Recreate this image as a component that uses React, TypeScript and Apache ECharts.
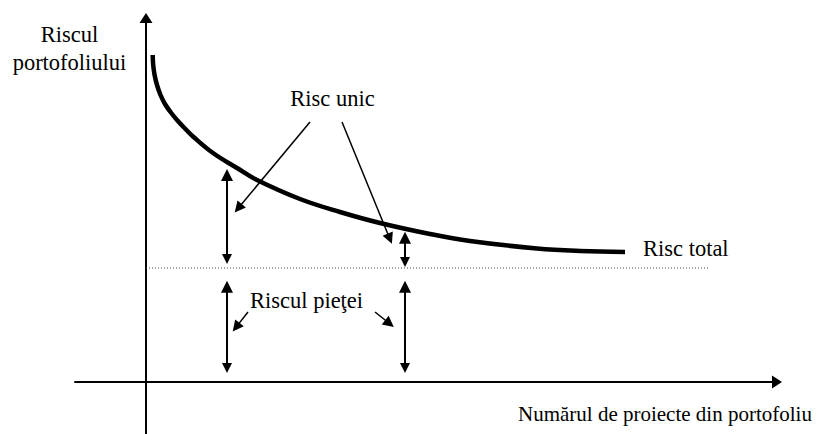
import React, { useEffect, useRef } from "react";
import * as echarts from "echarts";

// Total risk curve (x: number of projects, y: portfolio risk), axis origin at (0,0)
const curveX = [0.67, 0.72, 0.86, 1.1, 1.45, 1.9, 2.45, 3.1, 3.9, 4.73, 6.7, 9.1, 11.1, 15.4, 19.4, 23.4, 28.4, 32.4, 39.1, 43.4, 47.9];
const curveY = [32.7, 31.7, 30.7, 29.7, 28.7, 27.8, 27.0, 26.2, 25.35, 24.53, 22.9, 21.4, 20.2, 18.3, 17.0, 15.9, 14.8, 14.1, 13.35, 13.1, 13.0];

// Market (systematic) risk level – dotted line
const marketLevel = 11.4;
const marketLineX = [0, 56.4];

// Double arrows: [x, yFrom, yTo]
const uniqueRiskSpans = [
  [8.1, 20.7, 12.3],
  [25.9, 14.43, 12.0],
];
const marketRiskSpans = [
  [8.1, 9.53, 1.4],
  [25.9, 9.53, 1.4],
];

// Pointer arrows: [x0, y0, x1, y1]
const uniquePointers = [
  [16.4, 26.0, 9.22, 17.38],
  [19.6, 26.0, 24.38, 14.33],
];
const marketPointers = [
  [10.2, 7.0, 9.01, 5.49],
  [22.9, 7.0, 24.35, 5.85],
];

// Texts
const yAxisTitle = "Riscul\nportofoliului";
const xAxisTitle = "Numărul de proiecte din portofoliu";
const labelUnique = "Risc unic";
const labelTotal = "Risc total";
const labelMarket = "Riscul pieţei";

const FONT = "Liberation Serif";

export default function App() {
  const ref = useRef<HTMLDivElement>(null);

  useEffect(() => {
    if (!ref.current) return;
    const chart = echarts.init(ref.current, undefined, { renderer: "svg" });

    const axisCommon = {
      type: "value" as const,
      axisLine: {
        show: true,
        onZero: true,
        symbol: ["none", "triangle"],
        symbolSize: [13, 10],
        lineStyle: { color: "#000", width: 2 },
      },
      axisTick: { show: false },
      axisLabel: { show: false },
      splitLine: { show: false },
    };

    const textStyle = (text: string, align: string, size = 22.5) => ({
      text,
      font: `${size}px "${FONT}"`,
      fill: "#000",
      align,
      verticalAlign: "middle",
      lineHeight: 28,
    });

    const option: any = {
      animation: false,
      backgroundColor: "#fff",
      grid: { left: 75, right: 58, top: 18, bottom: 0, containLabel: false },
      xAxis: { ...axisCommon, min: -7.1, max: 63.1 },
      yAxis: { ...axisCommon, min: -5.2, max: 36.4 },
      series: [
        {
          type: "line",
          data: curveX.map((x, i) => [x, curveY[i]]),
          smooth: 0.4,
          symbol: "none",
          lineStyle: { color: "#000", width: 4.5, cap: "butt" },
          z: 3,
        },
        {
          type: "line",
          data: marketLineX.map((x) => [x, marketLevel]),
          symbol: "none",
          lineStyle: { color: "#444", width: 1, type: [1, 2] },
          z: 2,
        },
        {
          type: "lines",
          coordinateSystem: "cartesian2d",
          data: [...uniqueRiskSpans, ...marketRiskSpans].map((s) => ({
            coords: [
              [s[0], s[1]],
              [s[0], s[2]],
            ],
          })),
          symbol: ["triangle", "triangle"],
          symbolSize: [12, 10],
          lineStyle: { color: "#000", width: 2, opacity: 1 },
          z: 4,
        },
        {
          type: "lines",
          coordinateSystem: "cartesian2d",
          data: [...uniquePointers, ...marketPointers].map((p) => ({
            coords: [
              [p[0], p[1]],
              [p[2], p[3]],
            ],
          })),
          symbol: ["none", "triangle"],
          symbolSize: [12, 11],
          lineStyle: { color: "#000", width: 1.5, opacity: 1 },
          z: 4,
        },
      ],
      graphic: [
        { type: "text", x: 69.5, y: 48.5, style: textStyle(yAxisTitle, "center") },
        { type: "text", x: 332.5, y: 98, style: textStyle(labelUnique, "center") },
        { type: "text", x: 643, y: 248, style: textStyle(labelTotal, "left") },
        { type: "text", x: 250, y: 300, style: textStyle(labelMarket, "left") },
        { type: "text", x: 518, y: 414, style: textStyle(xAxisTitle, "left", 21) },
      ],
    };

    chart.setOption(option);
    return () => chart.dispose();
  }, []);

  return (
    <div
      ref={ref}
      style={{ position: "absolute", left: 0, top: 0, width: 835, height: 434, background: "#fff" }}
    />
  );
}
